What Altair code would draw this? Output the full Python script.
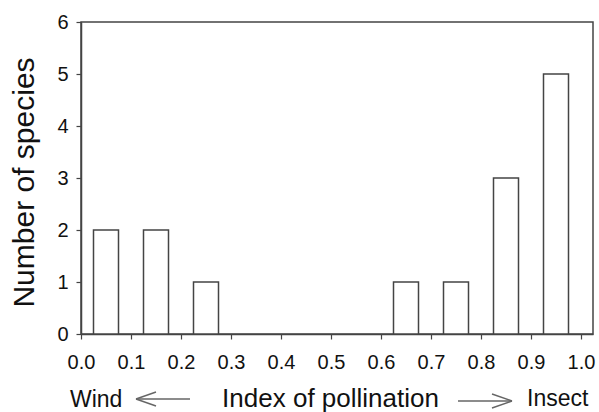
import altair as alt
import pandas as pd

# Histogram of pollination index (bins of 0.1), number of species per bin
bin_start = [0.0, 0.1, 0.2, 0.3, 0.4, 0.5, 0.6, 0.7, 0.8, 0.9]
species_count = [2, 2, 1, 0, 0, 0, 1, 1, 3, 5]
x_ticks = [0.0, 0.1, 0.2, 0.3, 0.4, 0.5, 0.6, 0.7, 0.8, 0.9, 1.0]
y_ticks = [0, 1, 2, 3, 4, 5, 6]

df = pd.DataFrame({"start": bin_start, "count": species_count})

FONT = "Liberation Sans"
LINE = "#444444"
TXT = "#111111"
ARROW = "#666666"

bars = (
    alt.Chart(df)
    .transform_filter("datum.count > 0")
    .transform_calculate(lo="datum.start + 0.025", hi="datum.start + 0.075")
    .mark_bar(fill="white", stroke=LINE, strokeWidth=1.5)
    .encode(
        x=alt.X(
            "lo:Q",
            scale=alt.Scale(domain=[0, 1.024], nice=False, zero=False),
            axis=alt.Axis(
                values=x_ticks,
                format=".1f",
                title="Index of pollination",
                titleFontSize=26,
                titleFontWeight="normal",
                titleFont=FONT,
                titleColor=TXT,
                titleX=249,
                titleY=72,
                titleAlign="center",
                titleBaseline="alphabetic",
                labelFontSize=20,
                labelPadding=13,
                tickSize=5,
                labelFlush=False,
            ),
        ),
        x2="hi:Q",
        y=alt.Y(
            "count:Q",
            scale=alt.Scale(domain=[0, 6], nice=False),
            axis=alt.Axis(
                values=y_ticks,
                format="d",
                title="Number of species",
                titleFontSize=30,
                titleFontWeight="normal",
                titleFont=FONT,
                titleColor=TXT,
                titleAngle=-90,
                titleX=-48,
                titleY=160,
                titleAlign="center",
                titleBaseline="alphabetic",
                labelFontSize=20,
                labelPadding=8,
                tickSize=5,
                labelFlush=False,
            ),
        ),
        y2=alt.datum(0),
    )
)

anno = pd.DataFrame({"dummy": [0]})

wind = alt.Chart(anno).mark_text(
    text="Wind", font=FONT, fontSize=23, align="left", baseline="alphabetic", color=TXT
).encode(x=alt.value(-11), y=alt.value(385))

insect = alt.Chart(anno).mark_text(
    text="Insect", font=FONT, fontSize=23, align="left", baseline="alphabetic", color=TXT
).encode(x=alt.value(446), y=alt.value(384))


def seg(x1, y1, x2, y2):
    return alt.Chart(anno).mark_rule(color=ARROW, strokeWidth=1.4).encode(
        x=alt.value(x1), y=alt.value(y1), x2=alt.value(x2), y2=alt.value(y2)
    )


# arrow pointing towards wind pollination
left_arrow = [seg(55, 377, 109, 377), seg(55, 377, 75, 370), seg(55, 377, 75, 384)]
# arrow pointing towards insect pollination
right_arrow = [seg(377, 379, 431, 379), seg(431, 379, 411, 372), seg(431, 379, 411, 386)]

chart = (
    alt.layer(bars, wind, insect, *left_arrow, *right_arrow)
    .properties(
        width=512,
        height=312,
        padding={"left": 81, "top": 22, "right": 6, "bottom": 78},
        autosize=alt.AutoSizeParams(type="none"),
        background="white",
    )
    .configure_view(stroke=LINE, strokeWidth=1.5)
    .configure_axis(
        grid=False,
        domainColor=LINE,
        domainWidth=1.5,
        tickColor=LINE,
        tickWidth=1.2,
        labelFont=FONT,
        labelColor=TXT,
    )
)

chart.save("out.html", embed_options={"renderer": "svg", "actions": False})
